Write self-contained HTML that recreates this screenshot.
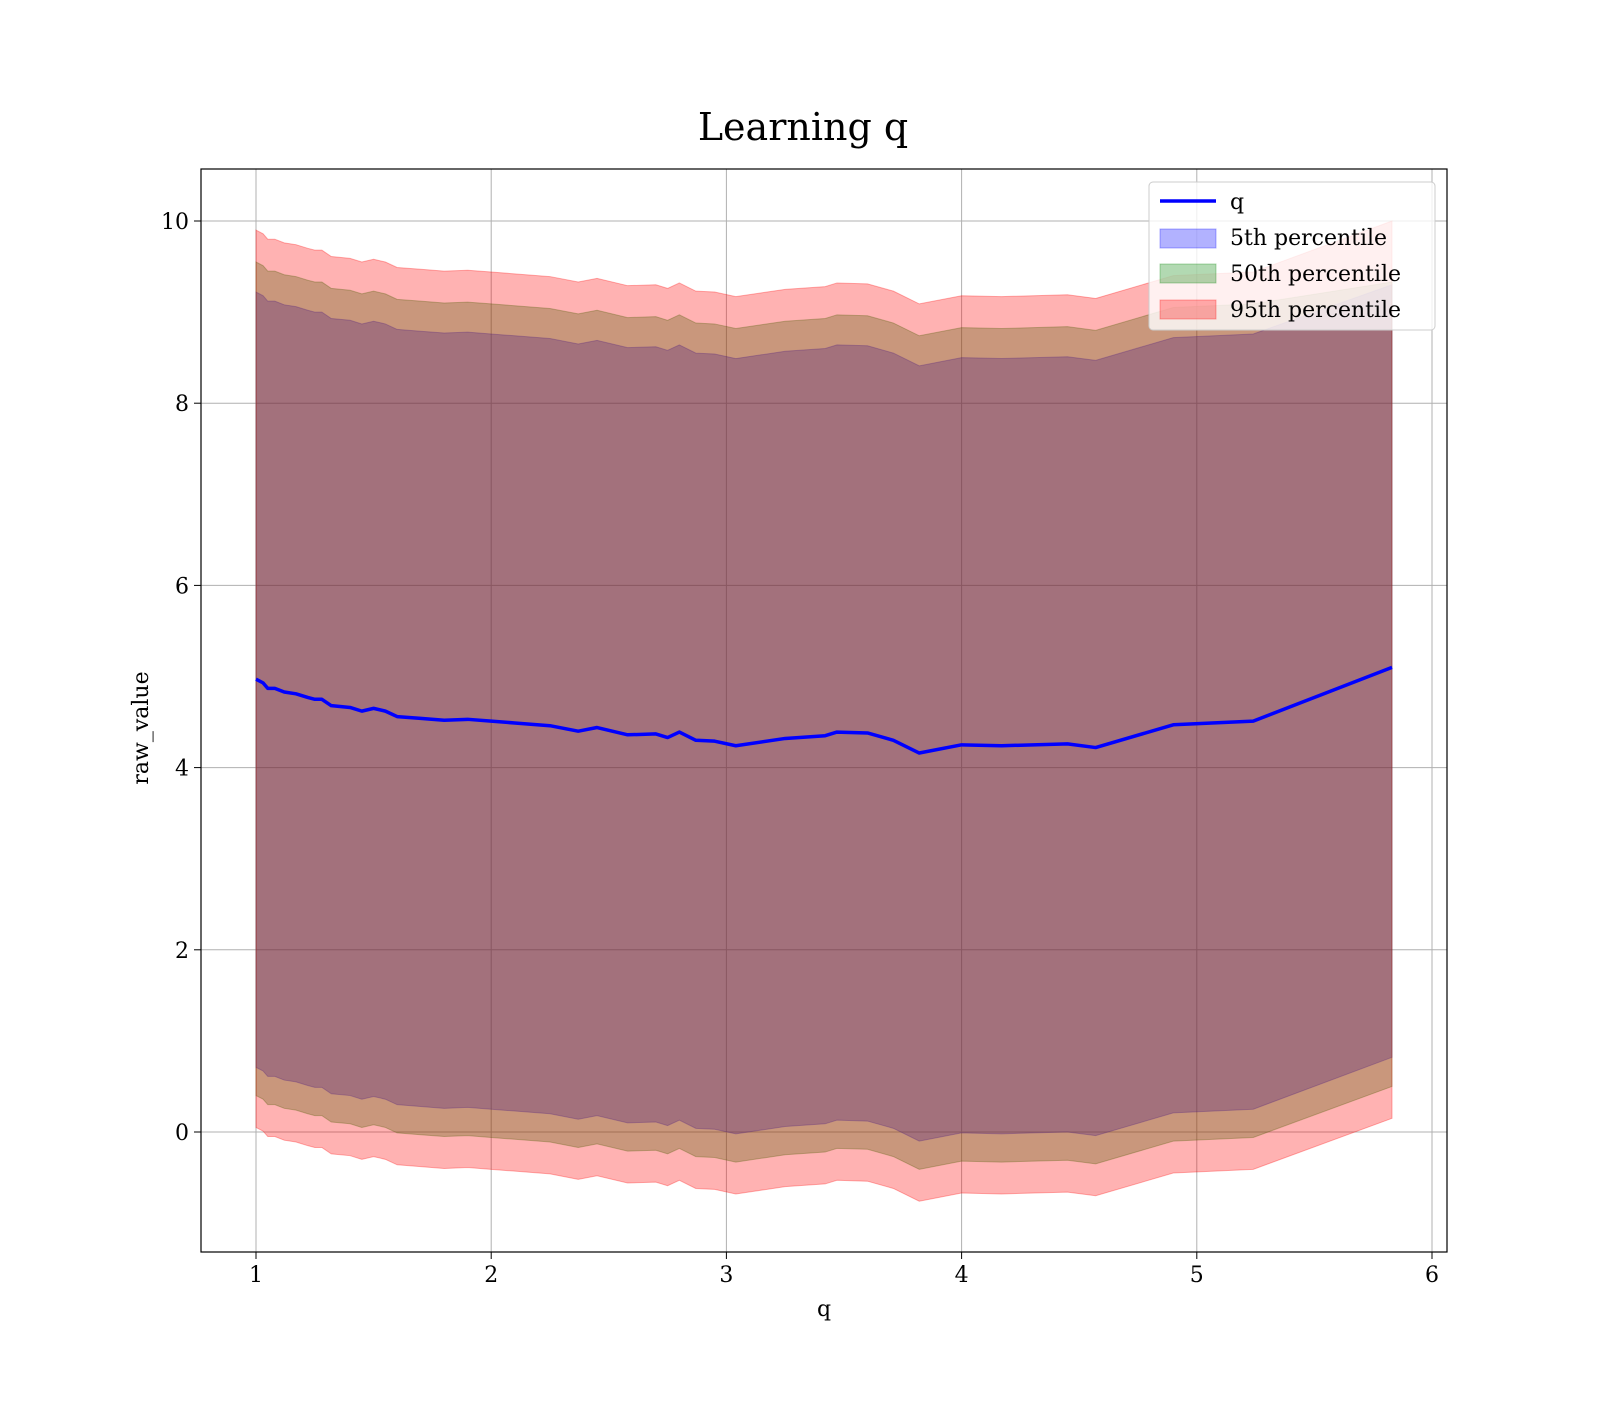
<!DOCTYPE html>
<html><head><meta charset="utf-8"><style>
body{margin:0;background:#fff}
svg text{font-family:"DejaVu Serif","Liberation Serif",serif;fill:#000}
</style></head><body>
<svg id="chart" width="1600" height="1400" viewBox="0 0 1600 1400" xmlns="http://www.w3.org/2000/svg">
<rect width="1600" height="1400" fill="#fff"/>
<text x="803" y="140" font-size="38" text-anchor="middle">Learning q</text>
<g id="grid"></g>
<g id="bands"></g>
<g id="line"></g>
<rect x="201" y="169" width="1246" height="1083" fill="none" stroke="#000" stroke-width="1.2"/>
<g id="ticks"></g>
<text x="824" y="1316" font-size="22" text-anchor="middle">q</text>
<text transform="translate(148,728) rotate(-90)" font-size="22" text-anchor="middle">raw_value</text>
<g>
<rect x="1149" y="182" width="286" height="148" rx="4" fill="#fff" fill-opacity="0.8" stroke="#ccc"/>
<line x1="1160" y1="201" x2="1216" y2="201" stroke="#0000ff" stroke-width="3.5"/>
<text x="1230" y="209" font-size="22">q</text>
<rect x="1160" y="229" width="56" height="19" fill="#0000ff" fill-opacity="0.3" stroke="#0000ff" stroke-opacity="0.3"/>
<text x="1230" y="245" font-size="22">5th percentile</text>
<rect x="1160" y="264" width="56" height="19" fill="#008000" fill-opacity="0.3" stroke="#008000" stroke-opacity="0.3"/>
<text x="1230" y="281" font-size="22">50th percentile</text>
<rect x="1160" y="300" width="56" height="19" fill="#ff0000" fill-opacity="0.3" stroke="#ff0000" stroke-opacity="0.3"/>
<text x="1230" y="317" font-size="22">95th percentile</text>
</g>
</svg>
<script>
const xs=[1.0,1.03,1.05,1.08,1.12,1.17,1.22,1.25,1.28,1.32,1.4,1.45,1.5,1.55,1.6,1.7,1.8,1.9,2.0,2.1,2.25,2.37,2.45,2.58,2.7,2.75,2.8,2.87,2.95,3.04,3.25,3.42,3.47,3.6,3.71,3.82,4.0,4.17,4.45,4.57,4.9,5.24,5.83];
const qVals=[4.97,4.93,4.87,4.87,4.83,4.81,4.77,4.75,4.75,4.68,4.66,4.62,4.65,4.62,4.56,4.54,4.52,4.53,4.51,4.49,4.46,4.40,4.44,4.36,4.37,4.33,4.39,4.30,4.29,4.24,4.32,4.35,4.39,4.38,4.30,4.16,4.25,4.24,4.26,4.22,4.47,4.51,5.10];
const redHi=[9.90,9.86,9.80,9.80,9.76,9.74,9.70,9.68,9.68,9.61,9.59,9.55,9.58,9.55,9.49,9.47,9.45,9.46,9.44,9.42,9.39,9.33,9.37,9.29,9.30,9.26,9.32,9.23,9.22,9.17,9.25,9.28,9.32,9.31,9.23,9.09,9.18,9.17,9.19,9.15,9.40,9.44,10.0];
const greenHi=[9.55,9.51,9.45,9.45,9.41,9.39,9.35,9.33,9.33,9.26,9.24,9.20,9.23,9.20,9.14,9.12,9.10,9.11,9.09,9.07,9.04,8.98,9.02,8.94,8.95,8.91,8.97,8.88,8.87,8.82,8.90,8.93,8.97,8.96,8.88,8.74,8.83,8.82,8.84,8.80,9.05,9.09,9.33];
const blueHi=[9.22,9.18,9.12,9.12,9.08,9.06,9.02,9.00,9.00,8.93,8.91,8.87,8.90,8.87,8.81,8.79,8.77,8.78,8.76,8.74,8.71,8.65,8.69,8.61,8.62,8.58,8.64,8.55,8.54,8.49,8.57,8.60,8.64,8.63,8.55,8.41,8.50,8.49,8.51,8.47,8.72,8.76,9.30];
const blueLo=[0.71,0.67,0.61,0.61,0.57,0.55,0.51,0.49,0.49,0.42,0.40,0.36,0.39,0.36,0.30,0.28,0.26,0.27,0.25,0.23,0.20,0.14,0.18,0.10,0.11,0.07,0.13,0.04,0.03,-0.02,0.06,0.09,0.13,0.12,0.04,-0.10,-0.01,-0.02,0.00,-0.04,0.21,0.25,0.82];
const greenLo=[0.40,0.36,0.30,0.30,0.26,0.24,0.20,0.18,0.18,0.11,0.09,0.05,0.08,0.05,-0.01,-0.03,-0.05,-0.04,-0.06,-0.08,-0.11,-0.17,-0.13,-0.21,-0.20,-0.24,-0.18,-0.27,-0.28,-0.33,-0.25,-0.22,-0.18,-0.19,-0.27,-0.41,-0.32,-0.33,-0.31,-0.35,-0.10,-0.06,0.50];
const redLo=[0.05,0.01,-0.05,-0.05,-0.09,-0.11,-0.15,-0.17,-0.17,-0.24,-0.26,-0.30,-0.27,-0.30,-0.36,-0.38,-0.40,-0.39,-0.41,-0.43,-0.46,-0.52,-0.48,-0.56,-0.55,-0.59,-0.53,-0.62,-0.63,-0.68,-0.60,-0.57,-0.53,-0.54,-0.62,-0.76,-0.67,-0.68,-0.66,-0.70,-0.45,-0.41,0.15];
const xTicks=[1,2,3,4,5,6];
const yTicks=[0,2,4,6,8,10];

const NS='http://www.w3.org/2000/svg';
const X=v=>256+(v-1)*235.2;
const Y=v=>1132-v*91.1;
const L=201,R=1447,T=169,B=1252;
function mk(tag,attrs,parent){const e=document.createElementNS(NS,tag);for(const k in attrs)e.setAttribute(k,attrs[k]);parent.appendChild(e);return e;}
const grid=document.getElementById('grid'),ticks=document.getElementById('ticks');
xTicks.forEach(t=>{
 const g=mk('line',{x1:X(t),x2:X(t),y1:T,y2:B,stroke:'#b0b0b0','stroke-width':1},grid);
 
 
 const tk=mk('line',{x1:X(t),x2:X(t),y1:B,y2:B+7,stroke:'#000'},ticks);
 
 
 const tx=mk('text',{x:X(t),y:B+30,'font-size':22,'text-anchor':'middle'},ticks);
 tx.textContent=t;
 
 
});
yTicks.forEach(t=>{
 const g=mk('line',{x1:L,x2:R,y1:Y(t),y2:Y(t),stroke:'#b0b0b0','stroke-width':1},grid);
 
 
 const tk=mk('line',{x1:L-7,x2:L,y1:Y(t),y2:Y(t),stroke:'#000'},ticks);
 
 
 const tx=mk('text',{x:L-12,y:Y(t)+8,'font-size':22,'text-anchor':'end'},ticks);
 tx.textContent=t;
 
 
});
const bands=document.getElementById('bands');
function band(lo,hi,color,name){
 let d='M'+xs.map((x,i)=>X(x)+','+Y(hi[i])).join('L');
 d+='L'+xs.map((x,i)=>X(x)+','+Y(lo[i])).reverse().join('L')+'Z';
 const p=mk('path',{d:d,fill:color,'fill-opacity':0.3,stroke:color,'stroke-opacity':0.3},bands);
 
 
}
band(blueLo,blueHi,'#0000ff','band-5th-percentile');
band(greenLo,greenHi,'#008000','band-50th-percentile');
band(redLo,redHi,'#ff0000','band-95th-percentile');
const ln=mk('polyline',{points:xs.map((x,i)=>X(x)+','+Y(qVals[i])).join(' '),fill:'none',stroke:'#0000ff','stroke-width':3.5,'stroke-linejoin':'round'},document.getElementById('line'));


</script>
</body></html>
